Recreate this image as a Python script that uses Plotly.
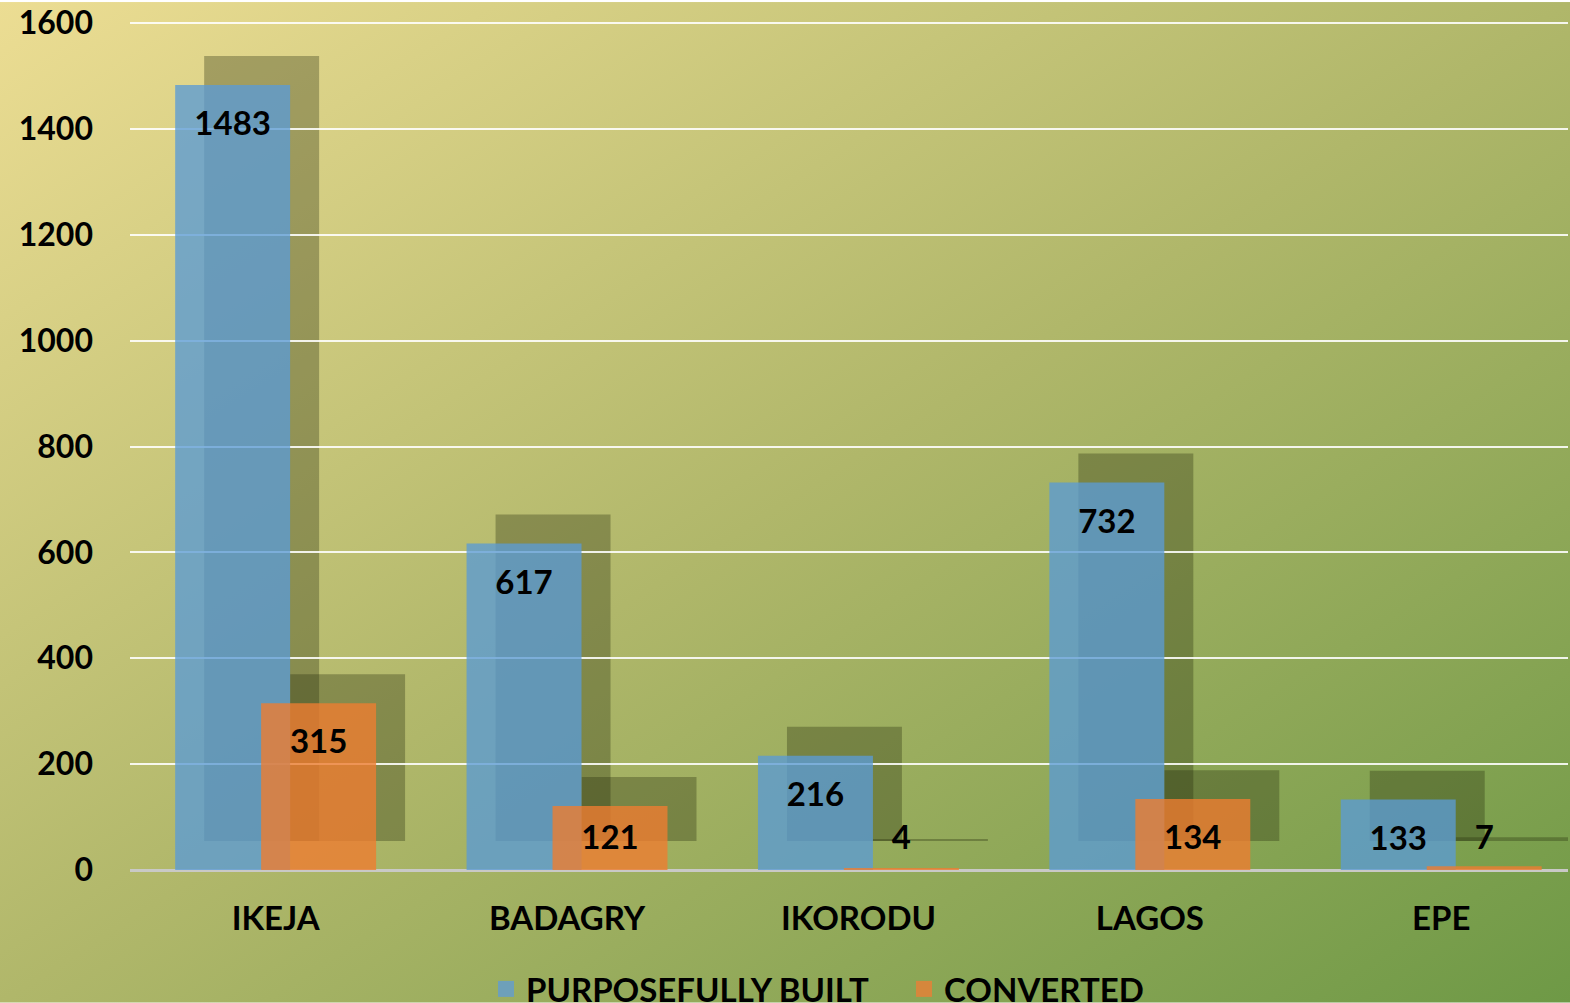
import base64
import plotly.graph_objects as go

# ---- data ----
categories = ["IKEJA", "BADAGRY", "IKORODU", "LAGOS", "EPE"]
purposefully_built = [1483, 617, 216, 732, 133]
converted = [315, 121, 4, 134, 7]
series_names = ["PURPOSEFULLY BUILT", "CONVERTED"]
y_ticks = [0, 200, 400, 600, 800, 1000, 1200, 1400, 1600]

# ---- layout constants ----
W, H = 1570, 1003
PX_PER_UNIT = 849 / 1600
Y_TOP = 1604                      # small headroom so the 1600 gridline is drawn
ML, MR, MB = 130, 2, 133
PH = round(Y_TOP * PX_PER_UNIT)
MT = H - MB - PH
PW = W - ML - MR
PX_PER_CAT = 291.4
SHADOW_DX, SHADOW_DY = 29, 29

BAR_W = 0.3945
BLUE_OFF = -0.345
ORANGE_OFF = -0.05

BLUE = "rgba(91,155,213,0.78)"
ORANGE = "rgba(237,125,49,0.80)"
SHADOW = "rgba(35,40,10,0.32)"
FONT = dict(family="Lato", size=33, color="black", weight="bold")
YFONT = dict(family="Lato", size=32, color="black", weight="bold")

x_idx = list(range(len(categories)))
x_range_main = [-0.5, -0.5 + PW / PX_PER_CAT]
x_range_shadow = [-0.5, -0.5 + (PW - SHADOW_DX) / PX_PER_CAT]
y_range_shadow = [0, Y_TOP * (PH - SHADOW_DY) / PH]

svg = f"""<svg xmlns='http://www.w3.org/2000/svg' width='{W}' height='{H}' preserveAspectRatio='none'>
<defs><linearGradient id='g' x1='0' y1='0' x2='1' y2='1'>
<stop offset='0' stop-color='#ECDD93'/>
<stop offset='0.5' stop-color='#B0B76A'/>
<stop offset='1' stop-color='#6E9946'/>
</linearGradient></defs>
<rect width='100%' height='100%' fill='url(#g)'/></svg>"""
bg_src = "data:image/svg+xml;base64," + base64.b64encode(svg.encode()).decode()

fig = go.Figure()

# shadows (drawn first, on shifted subplot)
for vals, off in [(purposefully_built, BLUE_OFF), (converted, ORANGE_OFF)]:
    fig.add_trace(go.Bar(x=x_idx, y=vals, width=BAR_W, offset=off,
                         marker=dict(color=SHADOW, line=dict(width=0)),
                         xaxis="x", yaxis="y", showlegend=False, hoverinfo="skip"))

# main bars
fig.add_trace(go.Bar(x=x_idx, y=purposefully_built, width=BAR_W, offset=BLUE_OFF,
                     marker=dict(color=BLUE, line=dict(width=0)),
                     xaxis="x2", yaxis="y2", showlegend=False, name=series_names[0]))
fig.add_trace(go.Bar(x=x_idx, y=converted, width=BAR_W, offset=ORANGE_OFF,
                     marker=dict(color=ORANGE, line=dict(width=0)),
                     xaxis="x2", yaxis="y2", showlegend=False, name=series_names[1]))

# data labels
LOW = 130
for vals, off in [(purposefully_built, BLUE_OFF), (converted, ORANGE_OFF)]:
    centre = off + BAR_W / 2
    xs = [i + centre for i in x_idx]
    ys = [v if v >= LOW else 0 for v in vals]
    pos = ["bottom center" if v >= LOW else "top center" for v in vals]
    pad = [39 if v >= LOW else 19 for v in vals]
    fig.add_trace(go.Scatter(x=xs, y=ys, mode="markers+text", text=[str(v) for v in vals],
                             textposition=pos,
                             marker=dict(size=pad, color="rgba(0,0,0,0)", opacity=0,
                                         line=dict(width=0, color="rgba(0,0,0,0)")),
                             textfont=dict(family="Lato", size=33, color="black", weight="bold"),
                             xaxis="x2", yaxis="y2", showlegend=False, hoverinfo="skip",
                             cliponaxis=False))

# legend entries
for name, col in zip(series_names, ["rgb(110,160,185)", "rgb(214,135,60)"]):
    fig.add_trace(go.Scatter(x=[None], y=[None], mode="markers", name=name,
                             marker=dict(symbol="square", size=18, color=col,
                                         line=dict(width=0)),
                             xaxis="x2", yaxis="y2"))

fig.update_layout(
    width=W, height=H,
    margin=dict(l=ML, r=MR, t=MT, b=MB, pad=0),
    paper_bgcolor="rgba(0,0,0,0)", plot_bgcolor="rgba(0,0,0,0)",
    barmode="overlay",
    images=[dict(source=bg_src, xref="paper", yref="paper",
                 x=-ML / PW, y=1 + MT / PH, sizex=W / PW, sizey=H / PH,
                 xanchor="left", yanchor="top", sizing="stretch", layer="below")],
    xaxis=dict(domain=[SHADOW_DX / PW, 1], range=x_range_shadow, visible=False,
               fixedrange=True),
    yaxis=dict(domain=[SHADOW_DY / PH, 1], range=y_range_shadow, visible=False,
               fixedrange=True),
    xaxis2=dict(domain=[0, 1], range=x_range_main, anchor="y2",
                tickmode="array", tickvals=x_idx, ticktext=categories,
                tickfont=FONT, showgrid=False, zeroline=False, showline=False,
                ticks="", ticklabelstandoff=26),
    yaxis2=dict(domain=[0, 1], range=[0, Y_TOP], anchor="x2",
                tickmode="array", tickvals=y_ticks, tickfont=YFONT,
                showgrid=True, gridcolor="rgba(255,255,255,0.88)", gridwidth=2,
                zeroline=True, zerolinecolor="#C9C9C6", zerolinewidth=3,
                showline=False, ticks="", ticklabelstandoff=36,
                ticklabeloverflow="allow"),
    legend=dict(orientation="h", xref="paper", yref="container",
                x=(486 - ML) / PW, xanchor="left", y=0.014, yanchor="middle",
                font=FONT, bgcolor="rgba(0,0,0,0)", itemsizing="trace",
                traceorder="normal", entrywidth=373),
    showlegend=True,
)

fig.write_html("out.html", config={"displayModeBar": False},
               post_script="document.body.style.margin='0';")
